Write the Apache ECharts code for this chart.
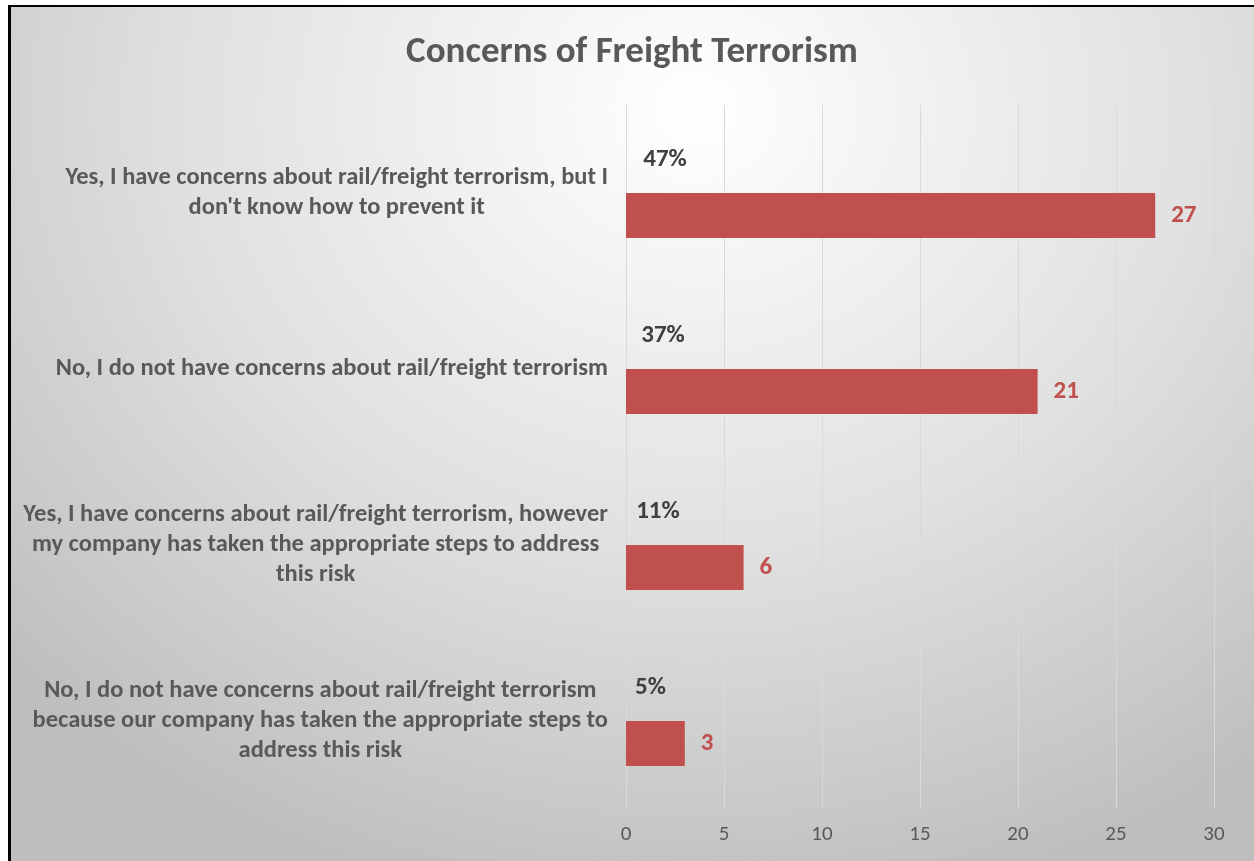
<!DOCTYPE html>
<html>
<head>
<meta charset="utf-8">
<script src="https://cdn.jsdelivr.net/npm/echarts@6/dist/echarts.min.js"></script>
<style>
  html, body { margin: 0; padding: 0; background: #ffffff; width: 1254px; height: 861px; overflow: hidden; }
  #frame {
    position: absolute; left: 8px; top: 5px; width: 1246px; height: 856px;
    border-left: 3px solid #000; border-top: 2px solid #000; box-sizing: border-box;
    background: radial-gradient(ellipse 75% 95% at 55% 12%, #ffffff 0%, #f5f5f5 18%, #e0e0e0 55%, #cacaca 85%, #bebebe 100%);
  }
  #chart { position: absolute; left: 0; top: 0; width: 1243px; height: 854px; }
</style>
</head>
<body>
<div id="frame"><div id="chart"></div></div>
<script>
const categories = [
  "Yes, I have concerns about rail/freight terrorism, but I\ndon't know how to prevent it",
  "No, I do not have concerns about rail/freight terrorism",
  "Yes, I have concerns about rail/freight terrorism, however\nmy company has taken the appropriate steps to address\nthis risk",
  "No, I do not have concerns about rail/freight terrorism\nbecause our company has taken the appropriate steps to\naddress this risk"
];
const counts = [27, 21, 6, 3];
const shares = [0.47, 0.37, 0.11, 0.05];
const xTicks = { min: 0, max: 30, interval: 5 };
const titleText = "Concerns of Freight Terrorism";

const FONT = "Carlito, Calibri, Lato, sans-serif";
const chart = echarts.init(document.getElementById('chart'), null, { renderer: 'canvas' });
chart.setOption({
  animation: false,
  backgroundColor: 'transparent',
  title: {
    text: titleText,
    left: 616, top: 22, textAlign: 'center',
    textStyle: { fontFamily: FONT, fontSize: 37, fontWeight: 'bold', color: '#595959' }
  },
  grid: { left: 615, right: 40, top: 98, bottom: 52, containLabel: false },
  xAxis: {
    type: 'value', min: xTicks.min, max: xTicks.max, interval: xTicks.interval,
    axisLine: { show: false }, axisTick: { show: false },
    splitLine: { show: true, lineStyle: { color: '#d9d9d9', width: 1 } },
    axisLabel: { fontFamily: FONT, fontSize: 21, color: '#595959', margin: 15 }
  },
  yAxis: {
    type: 'category', data: categories, inverse: true,
    axisLine: { show: false }, axisTick: { show: false },
    axisLabel: {
      align: 'right', margin: 18,
      formatter: v => v.split('\n').map(l => '{c|' + l + '}').join('\n'),
      rich: {
        c: { align: 'center', fontFamily: FONT, fontSize: 24.5, fontWeight: 'bold', color: '#595959', lineHeight: 30 }
      }
    }
  },
  series: [
    {
      name: 'Share', type: 'bar', data: shares, barWidth: 45, barGap: '0%',
      itemStyle: { color: 'rgba(0,0,0,0)' },
      label: {
        show: true, position: 'right', distance: 8, offset: [0, -11],
        formatter: p => Math.round(p.value * 100) + '%',
        fontFamily: FONT, fontSize: 25, fontWeight: 'bold', color: '#404040'
      }
    },
    {
      name: 'Count', type: 'bar', data: counts, barWidth: 45, barGap: '0%',
      itemStyle: { color: '#C0504D' },
      label: {
        show: true, position: 'right', distance: 16,
        fontFamily: FONT, fontSize: 25, fontWeight: 'bold', color: '#C0504D'
      }
    }
  ]
});
</script>
</body>
</html>
